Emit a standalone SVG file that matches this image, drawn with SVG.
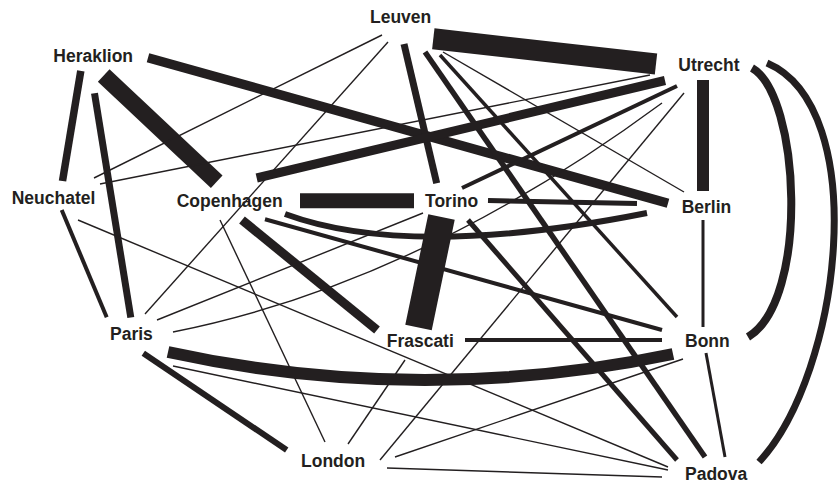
<svg xmlns="http://www.w3.org/2000/svg" width="838" height="484" viewBox="0 0 838 484">
<style>
.e{stroke:#231f20;fill:none;stroke-linecap:butt}
.t1{stroke-width:1.4}
.lbl{font-family:"Liberation Sans",Arial,sans-serif;font-weight:bold;font-size:17.5px;fill:#231f20}
</style>
<rect width="838" height="484" fill="#fff"/>
<g id="connectors">
<line class="e" stroke-width="17" x1="103.7" y1="75.5" x2="216.7" y2="181.7"/>
<line class="e" stroke-width="9.5" x1="148" y1="57.7" x2="668" y2="203.3"/>
<line class="e" stroke-width="7.5" x1="80.8" y1="70.8" x2="62.5" y2="181"/>
<line class="e" stroke-width="7" x1="94.5" y1="93.3" x2="130.8" y2="317.5"/>
<line class="e" stroke-width="21" x1="433.3" y1="38.8" x2="656" y2="64"/>
<line class="e" stroke-width="7" x1="404" y1="44" x2="436.7" y2="183.3"/>
<line class="e" stroke-width="5.5" x1="425" y1="52" x2="705" y2="457"/>
<line class="e" stroke-width="3.5" x1="440" y1="55" x2="677" y2="317"/>
<line class="e t1" x1="443" y1="52" x2="684" y2="192"/>
<line class="e t1" x1="382" y1="35" x2="94" y2="178"/>
<line class="e t1" x1="388" y1="42" x2="145" y2="314"/>
<line class="e t1" x1="100" y1="184" x2="650" y2="75"/>
<line class="e" stroke-width="9" x1="256.7" y1="178" x2="665" y2="80.5"/>
<line class="e" stroke-width="15" x1="300" y1="200.8" x2="414" y2="200.8"/>
<line class="e" stroke-width="12" x1="703" y1="80" x2="703" y2="191"/>
<line class="e" stroke-width="4" x1="677" y1="86" x2="462" y2="188"/>
<line class="e t1" x1="684" y1="93" x2="380" y2="460"/>
<path class="e t1" d="M173,332 Q417.5,283.5 662,103"/>
<line class="e" stroke-width="5" x1="488" y1="200.5" x2="637" y2="203.5"/>
<path class="e" stroke-width="6" d="M285,214 Q410,260 647,213"/>
<line class="e" stroke-width="9" x1="242" y1="220" x2="377" y2="330"/>
<line class="e" stroke-width="4" x1="265" y1="219.3" x2="662" y2="330"/>
<line class="e t1" x1="220" y1="220" x2="325" y2="442"/>
<line class="e t1" x1="423" y1="213" x2="157" y2="320"/>
<line class="e" stroke-width="5" x1="468" y1="220" x2="677" y2="460"/>
<line class="e" stroke-width="4" x1="61.7" y1="210" x2="106.7" y2="317.3"/>
<line class="e t1" x1="78" y1="220" x2="668" y2="467"/>
<path class="e" stroke-width="12" d="M168,352 Q420,407 673,354"/>
<line class="e" stroke-width="6" x1="143.3" y1="353.3" x2="286.7" y2="450"/>
<line class="e t1" x1="173" y1="366" x2="668" y2="470"/>
<line class="e" stroke-width="4" x1="465" y1="340" x2="662" y2="340"/>
<line class="e t1" x1="405" y1="360" x2="348" y2="444"/>
<line class="e t1" x1="683" y1="359" x2="395" y2="457"/>
<line class="e t1" x1="387" y1="468" x2="662" y2="477"/>
<line class="e" stroke-width="3" x1="703" y1="220" x2="703" y2="327"/>
<line class="e" stroke-width="3" x1="706" y1="353" x2="725" y2="457"/>
<path class="e" stroke-width="8" d="M752,68 C800,95 810,300 748,337"/>
<path class="e" stroke-width="7" d="M767,63 C872,108 842,372 759,462"/>
<line class="e" stroke-width="27" x1="441.5" y1="217" x2="418.5" y2="327.5"/>
</g>
<g id="node-leuven"><text class="lbl" x="370" y="23.3">Leuven</text></g>
<g id="node-heraklion"><text class="lbl" x="53.3" y="61.7">Heraklion</text></g>
<g id="node-utrecht"><text class="lbl" x="678.3" y="71">Utrecht</text></g>
<g id="node-neuchatel"><text class="lbl" x="11.7" y="204">Neuchatel</text></g>
<g id="node-copenhagen"><text class="lbl" x="176.7" y="206.7">Copenhagen</text></g>
<g id="node-torino"><text class="lbl" x="425" y="207">Torino</text></g>
<g id="node-berlin"><text class="lbl" x="681.7" y="213.3">Berlin</text></g>
<g id="node-paris"><text class="lbl" x="110" y="340">Paris</text></g>
<g id="node-frascati"><text class="lbl" x="386.7" y="346.7">Frascati</text></g>
<g id="node-bonn"><text class="lbl" x="685" y="346.7">Bonn</text></g>
<g id="node-london"><text class="lbl" x="301" y="467.3">London</text></g>
<g id="node-padova"><text class="lbl" x="685" y="480">Padova</text></g>
</svg>
